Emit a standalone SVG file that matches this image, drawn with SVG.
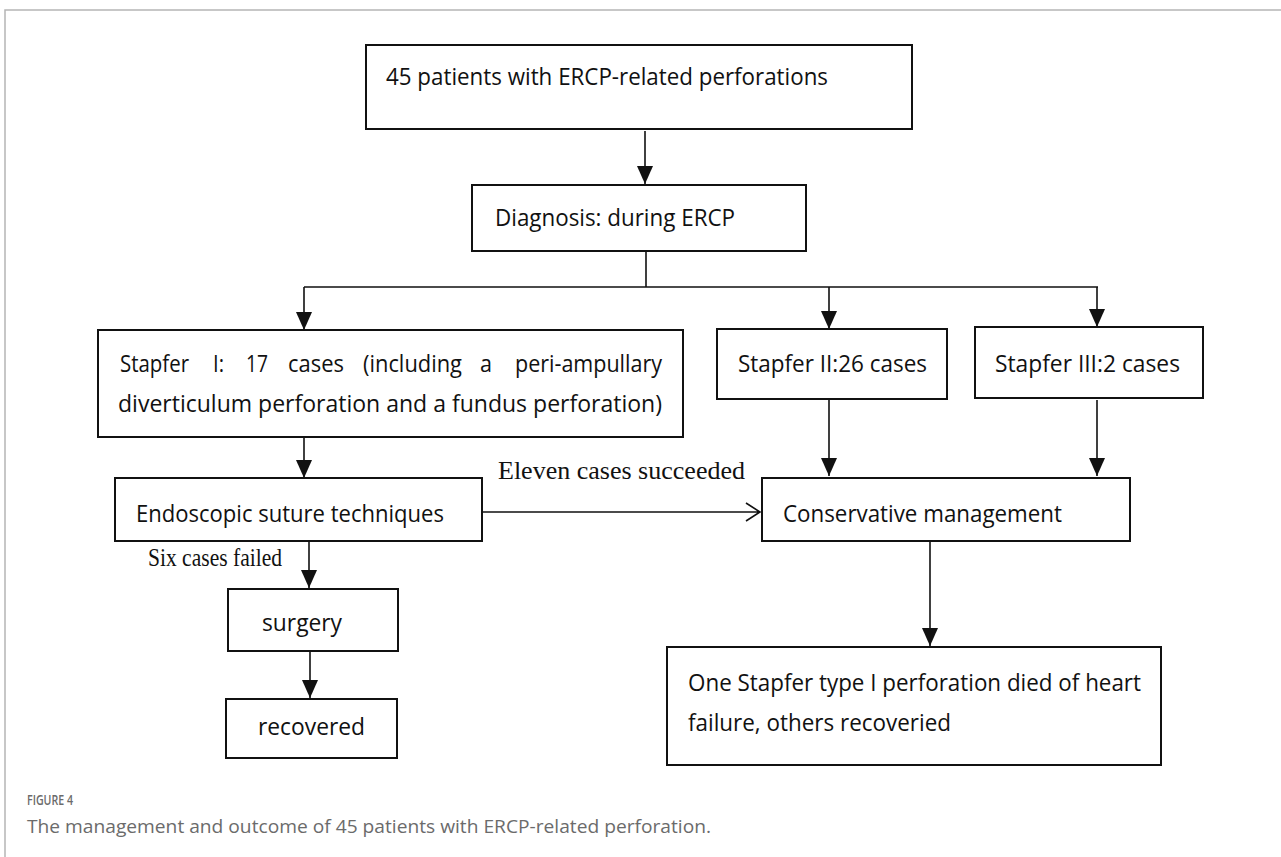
<svg xmlns="http://www.w3.org/2000/svg" width="1281" height="857" viewBox="0 0 1281 857">
<defs>
<style>
.box{fill:#fff;stroke:#111;stroke-width:2}
.t{font-family:"Open Sans","Liberation Sans",sans-serif;font-size:24px;fill:#111}
.s{font-family:"Liberation Serif",serif;font-size:26px;fill:#111}
.ln{fill:none;stroke:#111;stroke-width:1.6}
.ah{fill:#111}
.cap{font-family:"Open Sans","Liberation Sans",sans-serif;fill:#6b6b6b}
</style>
</defs>
<rect width="1281" height="857" fill="#fff"/>
<path d="M5,857 V10 H1281" fill="none" stroke="#b5b5b5" stroke-width="1.5"/>

<g id="connectors">
<path class="ln" d="M645,131 V184"/>
<path class="ah" d="M637,166 L653,166 L645,184 Z"/>
<path class="ln" d="M646,251 V287 M304,287 H1098 M304,287 V330 M829,287 V328 M1097,287 V327"/>
<path class="ah" d="M296,312 L312,312 L304,330 Z"/>
<path class="ah" d="M821,311 L837,311 L829,329 Z"/>
<path class="ah" d="M1089,309 L1105,309 L1097,327 Z"/>
<path class="ln" d="M829,399 V476 M1097,400 V476"/>
<path class="ah" d="M821,458 L837,458 L829,476 Z"/>
<path class="ah" d="M1089,458 L1105,458 L1097,476 Z"/>
<path class="ln" d="M304,437 V478"/>
<path class="ah" d="M296,460 L312,460 L304,478 Z"/>
<path class="ln" d="M482,512 H760 M746,503 L760,512 L746,521"/>
<path class="ln" d="M309,541 V588"/>
<path class="ah" d="M301,570 L317,570 L309,588 Z"/>
<path class="ln" d="M310,651 V698"/>
<path class="ah" d="M302,680 L318,680 L310,698 Z"/>
<path class="ln" d="M930,541 V646"/>
<path class="ah" d="M922,628 L938,628 L930,646 Z"/>
</g>

<g id="n1"><rect class="box" x="366" y="45" width="546" height="84"/>
<text class="t" x="386" y="85" textLength="442" lengthAdjust="spacingAndGlyphs">45 patients with ERCP-related perforations</text></g>
<g id="n2"><rect class="box" x="472" y="185" width="334" height="66"/>
<text class="t" x="495" y="226" textLength="240" lengthAdjust="spacingAndGlyphs">Diagnosis: during ERCP</text></g>
<g id="n3"><rect class="box" x="98" y="330" width="585" height="107"/>
<text class="t" y="372"><tspan x="120" textLength="69" lengthAdjust="spacingAndGlyphs">Stapfer</tspan> <tspan x="213" textLength="11" lengthAdjust="spacingAndGlyphs">I:</tspan> <tspan x="246" textLength="22" lengthAdjust="spacingAndGlyphs">17</tspan> <tspan x="288" textLength="56" lengthAdjust="spacingAndGlyphs">cases</tspan> <tspan x="363" textLength="99" lengthAdjust="spacingAndGlyphs">(including</tspan> <tspan x="480" textLength="12" lengthAdjust="spacingAndGlyphs">a</tspan> <tspan x="515" textLength="147" lengthAdjust="spacingAndGlyphs">peri-ampullary</tspan></text>
<text class="t" x="118" y="412" textLength="544" lengthAdjust="spacingAndGlyphs">diverticulum perforation and a fundus perforation)</text></g>
<g id="n4"><rect class="box" x="717" y="329" width="230" height="70"/>
<text class="t" x="738" y="372" textLength="189" lengthAdjust="spacingAndGlyphs">Stapfer II:26 cases</text></g>
<g id="n5"><rect class="box" x="975" y="327" width="228" height="71"/>
<text class="t" x="995" y="372" textLength="185" lengthAdjust="spacingAndGlyphs">Stapfer III:2 cases</text></g>
<g id="n6"><rect class="box" x="115" y="478" width="367" height="63"/>
<text class="t" x="136" y="522" textLength="308" lengthAdjust="spacingAndGlyphs">Endoscopic suture techniques</text></g>
<g id="n7"><rect class="box" x="762" y="478" width="368" height="63"/>
<text class="t" x="783" y="522" textLength="279" lengthAdjust="spacingAndGlyphs">Conservative management</text></g>
<g id="n8"><rect class="box" x="228" y="589" width="170" height="62"/>
<text class="t" x="262" y="631" textLength="80" lengthAdjust="spacingAndGlyphs">surgery</text></g>
<g id="n9"><rect class="box" x="226" y="699" width="171" height="59"/>
<text class="t" x="258" y="735" textLength="107" lengthAdjust="spacingAndGlyphs">recovered</text></g>
<g id="n10"><rect class="box" x="667" y="647" width="494" height="118"/>
<text class="t" x="688" y="691" textLength="453" lengthAdjust="spacingAndGlyphs">One Stapfer type I perforation died of heart</text>
<text class="t" x="688" y="731" textLength="263" lengthAdjust="spacingAndGlyphs">failure, others recoveried</text></g>

<g id="labels">
<text class="s" x="498" y="479" textLength="247" lengthAdjust="spacingAndGlyphs">Eleven cases succeeded</text>
<text class="s" x="148" y="566" textLength="134" lengthAdjust="spacingAndGlyphs">Six cases failed</text>
</g>

<g id="caption">
<text class="cap" x="27" y="805" font-size="14" font-weight="600" textLength="46" lengthAdjust="spacingAndGlyphs">FIGURE 4</text>
<text class="cap" x="27" y="833" font-size="18" textLength="684" lengthAdjust="spacingAndGlyphs">The management and outcome of 45 patients with ERCP-related perforation.</text>
</g>
</svg>
